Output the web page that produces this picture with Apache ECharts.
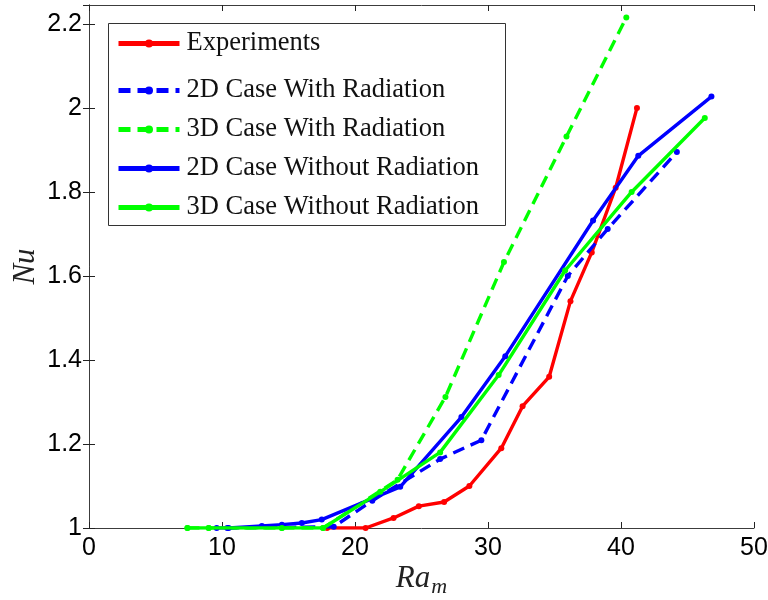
<!DOCTYPE html>
<html><head><meta charset="utf-8">
<script src="https://cdn.jsdelivr.net/npm/echarts@6/dist/echarts.min.js"></script>
<style>html,body{margin:0;padding:0;background:#fff}#c{width:768px;height:600px}</style>
</head><body><div id="c"></div>
<script>
const seriesNames = ['Experiments','2D Case With Radiation','3D Case With Radiation','2D Case Without Radiation','3D Case Without Radiation'];
const experiments = [[17.9,1.0],[20.8,1.0],[22.9,1.024],[24.8,1.052],[26.7,1.062],[28.6,1.10],[31.0,1.19],[32.6,1.29],[34.6,1.36],[36.2,1.54],[37.8,1.656],[39.6,1.81],[41.2,2.0]];
const case2DRad = [[10.4,1.0],[18.4,1.003],[21.3,1.065],[26.4,1.164],[29.5,1.209],[36.0,1.6],[39.0,1.712],[44.2,1.895]];
const case3DRad = [[7.4,1.0],[9.0,1.0],[14.5,1.0],[17.6,1.0],[23.2,1.115],[26.8,1.312],[31.2,1.633],[35.9,1.932],[40.4,2.215]];
const case2DNoRad = [[9.6,1.0],[10.5,1.0],[13.0,1.005],[14.5,1.008],[16.0,1.012],[17.5,1.02],[23.4,1.098],[28.0,1.264],[31.3,1.409],[37.9,1.732],[41.3,1.886],[46.8,2.027]];
const case3DNoRad = [[7.4,1.0],[9.0,1.0],[14.5,1.0],[17.6,1.0],[21.9,1.086],[26.4,1.18],[30.8,1.364],[35.8,1.613],[40.8,1.80],[46.3,1.976]];
const xTicks = [0,10,20,30,40,50];
const yTicks = [1,1.2,1.4,1.6,1.8,2,2.2];

const colors = ['#ff0000','#0000ff','#00ff00','#0000ff','#00ff00'];
const dashed = [false,true,true,false,false];
const dataSets = [experiments, case2DRad, case3DRad, case2DNoRad, case3DNoRad];

const chart = echarts.init(document.getElementById('c'));
const axisCommon = {
  axisLine:{show:true,lineStyle:{color:'#3c3c3c',width:1}},
  axisTick:{show:true,inside:true,length:6,lineStyle:{color:'#222'}},
  splitLine:{show:false}
};
const legendText = {fontFamily:'Liberation Serif',fontSize:26.5,color:'#111',padding:[0,0,0,2]};
chart.setOption({
  animation:false,
  backgroundColor:'#fff',
  grid:{left:89,right:14,top:5,bottom:72,containLabel:false,outerBoundsMode:'none'},
  xAxis:[
    Object.assign({type:'value',min:0,max:50,interval:10,position:'bottom',
      name:'{i|Ra}{s|m}',nameLocation:'middle',nameGap:32,nameMoveOverlap:false,
      nameTextStyle:{rich:{i:{fontFamily:'Liberation Serif',fontStyle:'italic',fontSize:31,color:'#222'},s:{fontFamily:'Liberation Serif',fontStyle:'italic',fontSize:22,color:'#222',padding:[16,0,0,1]}}},
      axisLabel:{color:'#000',fontFamily:'Liberation Sans',fontSize:25,margin:8,formatter:v=>xTicks.includes(v)?String(v):''}},axisCommon),
    Object.assign({type:'value',min:0,max:50,interval:10,position:'top',axisLabel:{show:false}},axisCommon)
  ],
  yAxis:[
    Object.assign({type:'value',min:1,max:2.245,interval:0.2,position:'left',
      name:'Nu',nameLocation:'middle',nameGap:48,nameRotate:90,nameMoveOverlap:false,
      nameTextStyle:{fontFamily:'Liberation Serif',fontStyle:'italic',fontSize:31,color:'#222'},
      axisLabel:{color:'#000',fontFamily:'Liberation Sans',fontSize:25,margin:7,showMaxLabel:false,
        formatter:v=>{const t=yTicks.find(k=>Math.abs(k-v)<1e-6);return t===undefined?'':String(t);}}},axisCommon),
    Object.assign({type:'value',min:1,max:2.245,interval:0.2,position:'right',axisLabel:{show:false}},axisCommon)
  ],
  legend:[
    {data:[seriesNames[0]],left:111,top:25,orient:'vertical',itemWidth:61,itemHeight:10,itemGap:0,
      lineStyle:{width:5},textStyle:legendText,selectedMode:false},
    {data:seriesNames.slice(1),left:111,top:72,orient:'vertical',itemWidth:61,itemHeight:10,itemGap:12,
      lineStyle:{width:5},textStyle:legendText,selectedMode:false}
  ],
  graphic:[{type:'rect',left:106,top:21,shape:{width:397,height:202},style:{fill:'none',stroke:'#333',lineWidth:1},z:-1}],
  series: seriesNames.map((n,i)=>({
    name:n,type:'line',data:dataSets[i],
    symbol:'circle',symbolSize:6,showSymbol:true,
    itemStyle:{color:colors[i]},
    lineStyle:{color:colors[i],width:3.4,type:dashed[i]?[12,7]:'solid'},
    z:2+i
  }))
});
</script></body></html>
